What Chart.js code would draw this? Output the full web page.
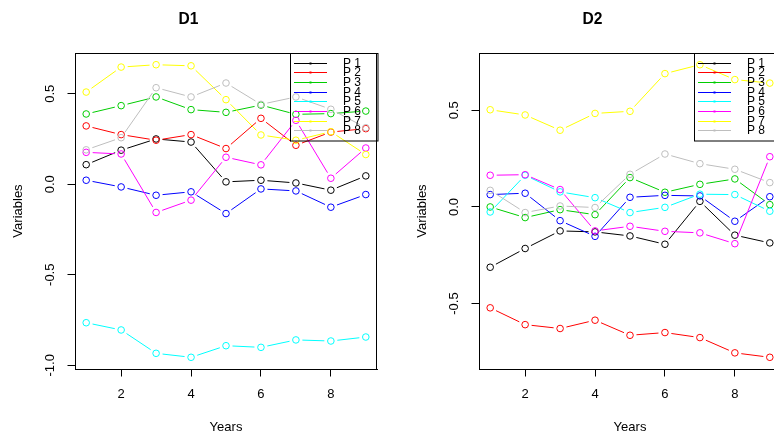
<!DOCTYPE html>
<html>
<head>
<meta charset="utf-8">
<script src="https://cdn.jsdelivr.net/npm/chart.js@4.4.0/dist/chart.umd.min.js"></script>
<style>
html, body { margin: 0; padding: 0; background: #fff; overflow: hidden; }
#wrap { position: relative; width: 774px; height: 438px; overflow: hidden; }
.panel { position: absolute; top: 0; }
</style>
</head>
<body>
<div id="wrap">
  <canvas id="d1" class="panel" width="387" height="438" style="left:0px"></canvas>
  <canvas id="d2" class="panel" width="387" height="438" style="left:404px"></canvas>
</div>
<script>
// data
const years = [1, 2, 3, 4, 5, 6, 7, 8, 9];
const seriesNames = ['P 1', 'P 2', 'P 3', 'P 4', 'P 5', 'P 6', 'P 7', 'P 8'];
const xTicks = [2, 4, 6, 8];
const yTicksD1 = [-1.0, -0.5, 0.0, 0.5];
const yTicksD2 = [-0.5, 0.0, 0.5];

const d1P1 = [0.108, 0.188, 0.250, 0.233, 0.013, 0.022, 0.007, -0.033, 0.046];
const d1P2 = [0.322, 0.274, 0.243, 0.274, 0.197, 0.364, 0.215, 0.288, 0.307];
const d1P3 = [0.388, 0.434, 0.482, 0.412, 0.397, 0.437, 0.386, 0.390, 0.404];
const d1P4 = [0.022, -0.015, -0.061, -0.042, -0.162, -0.026, -0.037, -0.127, -0.057];
const d1P5 = [-0.765, -0.805, -0.934, -0.956, -0.892, -0.901, -0.860, -0.866, -0.844];
const d1P6 = [0.176, 0.167, -0.156, -0.088, 0.149, 0.107, 0.353, 0.033, 0.200];
const d1P7 = [0.509, 0.647, 0.660, 0.654, 0.467, 0.272, 0.243, 0.290, 0.164];
const d1P8 = [0.190, 0.257, 0.533, 0.482, 0.559, 0.441, 0.482, 0.414, 0.312];

const d2P1 = [-0.312, -0.215, -0.124, -0.129, -0.150, -0.193, 0.029, -0.146, -0.186];
const d2P2 = [-0.522, -0.609, -0.629, -0.586, -0.664, -0.650, -0.676, -0.755, -0.778];
const d2P3 = [0.000, -0.055, -0.014, -0.040, 0.152, 0.076, 0.117, 0.145, 0.012];
const d2P4 = [0.064, 0.071, -0.071, -0.152, 0.050, 0.060, 0.057, -0.074, 0.053];
const d2P5 = [-0.026, 0.164, 0.078, 0.048, -0.029, -0.002, 0.066, 0.064, -0.022];
const d2P6 = [0.164, 0.167, 0.090, -0.124, -0.100, -0.126, -0.134, -0.190, 0.260];
const d2P7 = [0.503, 0.476, 0.397, 0.484, 0.495, 0.690, 0.736, 0.659, 0.641];
const d2P8 = [0.086, -0.029, 0.005, -0.003, 0.169, 0.274, 0.224, 0.195, 0.126];

// R default palette
const colors = ['#000000', '#FF0000', '#00CD00', '#0000FF', '#00FFFF', '#FF00FF', '#FFFF00', '#BEBEBE'];
const fam = '"Liberation Sans", Arial, Helvetica, sans-serif';

// R style: data range padded by 4%
function padRange(lo, hi) {
  const d = (hi - lo) * 0.04;
  return [lo - d, hi + d];
}

// type="b": leave a gap around each point, dash period = segment length
function gapDash(ctx) {
  const L = Math.hypot(ctx.p1.x - ctx.p0.x, ctx.p1.y - ctx.p0.y);
  const g = 6.5;
  return L > 2 * g ? [0, g, L - 2 * g, g] : [0, L];
}

// box around the plot region
const frame = {
  id: 'frame',
  afterDraw(chart) {
    const {ctx, chartArea: a} = chart;
    ctx.save();
    ctx.strokeStyle = '#000';
    ctx.lineWidth = 1;
    ctx.strokeRect(Math.round(a.left) + 0.5, Math.round(a.top) + 0.5,
      Math.round(a.right - a.left) - 1, Math.round(a.bottom - a.top));
    ctx.restore();
  }
};

// topright legend like R's legend(), transparent background
const rLegend = {
  id: 'rLegend',
  afterDatasetsDraw(chart) {
    const {ctx, chartArea: a} = chart;
    const w = 87.5, h = 87.5;
    const left = a.right - w, top = a.top;
    ctx.save();
    ctx.strokeStyle = '#000';
    ctx.lineWidth = 1;
    ctx.strokeRect(Math.round(left) + 0.5, Math.round(top) + 0.5, w, h);
    ctx.font = '12px ' + fam;
    ctx.textBaseline = 'middle';
    ctx.textAlign = 'left';
    chart.data.datasets.forEach((ds, i) => {
      const y = Math.round(top + 9.7 + i * 9.67) + 0.5;
      ctx.strokeStyle = ds.borderColor;
      ctx.beginPath();
      ctx.moveTo(left + 4.5, y);
      ctx.lineTo(left + 37.5, y);
      ctx.stroke();
      ctx.fillStyle = ds.borderColor;
      ctx.fillRect(left + 20, y - 1, 2, 2);
      ctx.fillStyle = '#000';
      ctx.fillText(ds.label, left + 53.5, y + 0.5);
    });
    ctx.restore();
  }
};

function makePanel(id, title, series, yTicks) {
  const all = series.flat();
  const [ymin, ymax] = padRange(Math.min(...all), Math.max(...all));
  const [xmin, xmax] = padRange(years[0], years[years.length - 1]);
  const font = {family: fam, size: 13};

  new Chart(document.getElementById(id), {
    type: 'line',
    data: {
      datasets: series.map((vals, i) => ({
        label: seriesNames[i],
        data: years.map((x, j) => ({x: x, y: vals[j]})),
        borderColor: colors[i],
        borderWidth: 1,
        pointRadius: 3.3,
        pointBorderWidth: 1,
        pointBorderColor: colors[i],
        pointBackgroundColor: 'rgba(0,0,0,0)',
        tension: 0,
        segment: {borderDash: gapDash},
        order: series.length - i
      }))
    },
    options: {
      responsive: false,
      animation: false,
      events: [],
      layout: {padding: {left: 0, right: 10, top: 0, bottom: 0}},
      plugins: {
        legend: {display: false},
        tooltip: {enabled: false},
        title: {
          display: true, text: title, color: '#000',
          font: {family: fam, size: 15.6, weight: 'bold'},
          padding: {top: 10.3, bottom: 24}
        }
      },
      scales: {
        x: {
          type: 'linear', min: xmin, max: xmax,
          afterBuildTicks: s => { s.ticks = xTicks.map(v => ({value: v})); },
          afterFit: s => { s.height = 69; },
          grid: {drawOnChartArea: false, drawTicks: true, tickLength: 7.5, tickColor: '#000'},
          border: {display: true, color: '#000'},
          ticks: {color: '#000', font: font, padding: 10, maxRotation: 0, callback: v => String(v)},
          title: {display: true, text: 'Years', color: '#000', font: font, padding: {top: 0, bottom: 2.5}}
        },
        y: {
          type: 'linear', min: ymin, max: ymax,
          afterBuildTicks: s => { s.ticks = yTicks.map(v => ({value: v})); },
          afterFit: s => { s.width = 75; },
          grid: {drawOnChartArea: false, drawTicks: true, tickLength: 7.5, tickColor: '#000'},
          border: {display: true, color: '#000'},
          ticks: {color: '#000', font: font, padding: 6, minRotation: 90, maxRotation: 90,
            crossAlign: 'center', callback: v => v.toFixed(1)},
          title: {display: true, text: 'Variables', color: '#000', font: font, padding: {top: 10.5, bottom: 0}}
        }
      }
    },
    plugins: [frame, rLegend]
  });
}

makePanel('d1', 'D1', [d1P1, d1P2, d1P3, d1P4, d1P5, d1P6, d1P7, d1P8], yTicksD1);
makePanel('d2', 'D2', [d2P1, d2P2, d2P3, d2P4, d2P5, d2P6, d2P7, d2P8], yTicksD2);
</script>
</body>
</html>
